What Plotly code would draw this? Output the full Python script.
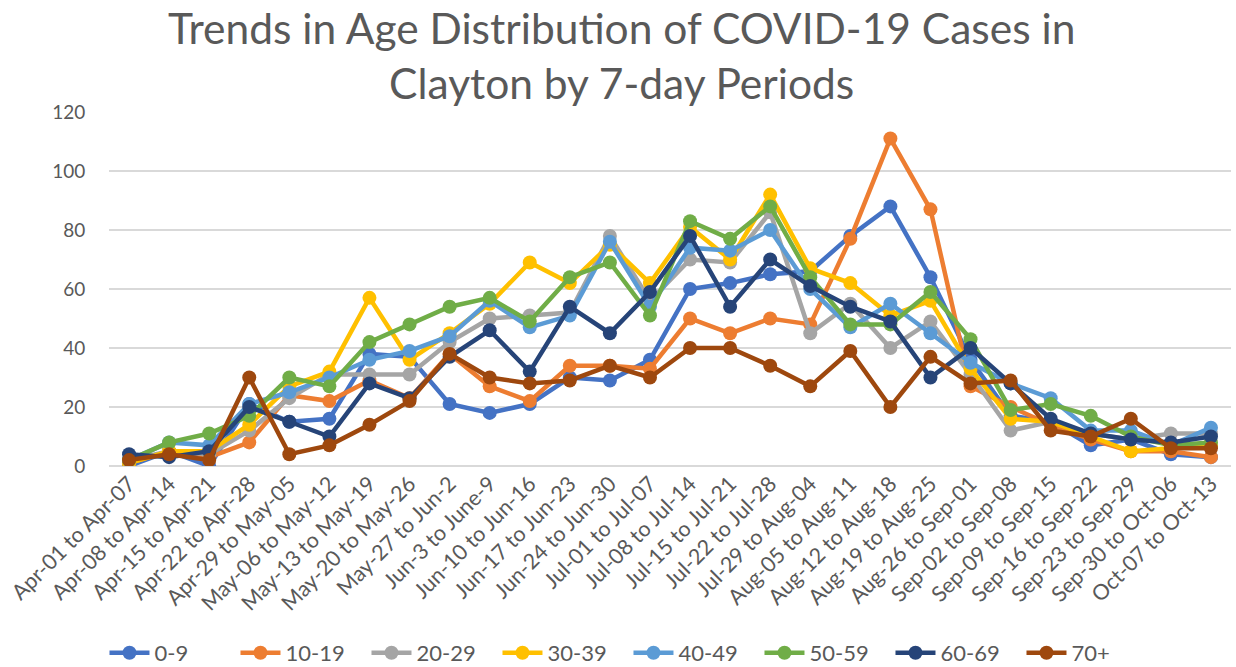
import plotly.graph_objects as go

periods = ["Apr-01 to Apr-07", "Apr-08 to Apr-14", "Apr-15 to Apr-21", "Apr-22 to Apr-28",
           "Apr-29 to May-05", "May-06 to May-12", "May-13 to May-19", "May-20 to May-26",
           "May-27 to Jun-2", "Jun-3 to June-9", "Jun-10 to Jun-16", "Jun-17 to Jun-23",
           "Jun-24 to Jun-30", "Jul-01 to Jul-07", "Jul-08 to Jul-14", "Jul-15 to Jul-21",
           "Jul-22 to Jul-28", "Jul-29 to Aug-04", "Aug-05 to Aug-11", "Aug-12 to Aug-18",
           "Aug-19 to Aug-25", "Aug-26 to Sep-01", "Sep-02 to Sep-08", "Sep-09 to Sep-15",
           "Sep-16 to Sep-22", "Sep-23 to Sep-29", "Sep-30 to Oct-06", "Oct-07 to Oct-13"]

age_0_9   = [0, 5, 0, 21, 15, 16, 38, 37, 21, 18, 21, 30, 29, 36, 60, 62, 65, 66, 78, 88, 64, 36, 17, 15, 7, 9, 4, 3]
age_10_19 = [1, 5, 3, 8, 24, 22, 29, 23, 38, 27, 22, 34, 34, 33, 50, 45, 50, 48, 77, 111, 87, 27, 20, 14, 9, 5, 5, 3]
age_20_29 = [2, 5, 4, 12, 23, 31, 31, 31, 42, 50, 51, 52, 78, 56, 70, 69, 86, 45, 55, 40, 49, 31, 12, 15, 11, 9, 11, 11]
age_30_39 = [1, 5, 5, 14, 27, 32, 57, 36, 45, 55, 69, 62, 75, 62, 81, 70, 92, 67, 62, 51, 56, 33, 16, 15, 10, 5, 6, 7]
age_40_49 = [2, 8, 7, 21, 25, 30, 36, 39, 44, 56, 47, 51, 76, 54, 74, 73, 80, 60, 47, 55, 45, 35, 28, 23, 12, 12, 7, 13]
age_50_59 = [2, 8, 11, 17, 30, 27, 42, 48, 54, 57, 49, 64, 69, 51, 83, 77, 88, 64, 48, 48, 59, 43, 19, 21, 17, 10, 7, 8]
age_60_69 = [4, 3, 5, 20, 15, 10, 28, 23, 37, 46, 32, 54, 45, 59, 78, 54, 70, 61, 54, 49, 30, 40, 28, 16, 11, 9, 8, 10]
age_70p   = [2, 4, 2, 30, 4, 7, 14, 22, 38, 30, 28, 29, 34, 30, 40, 40, 34, 27, 39, 20, 37, 28, 29, 12, 10, 16, 6, 6]

series_names = ["0-9", "10-19", "20-29", "30-39", "40-49", "50-59", "60-69", "70+"]
series_values = [age_0_9, age_10_19, age_20_29, age_30_39, age_40_49, age_50_59, age_60_69, age_70p]
colors = ["#4472C4", "#ED7D31", "#A5A5A5", "#FFC000", "#5B9BD5", "#70AD47", "#264478", "#9E480E"]

FONT = "Lato"
TXT = "#595959"

fig = go.Figure()
for name, vals, col in zip(series_names, series_values, colors):
    fig.add_trace(go.Scatter(
        x=periods, y=vals, name=name, mode="lines+markers",
        line=dict(color=col, width=4.5),
        marker=dict(color=col, size=14),
    ))

fig.update_layout(
    width=1236, height=667,
    paper_bgcolor="white", plot_bgcolor="white",
    margin=dict(l=109, r=5, t=112, b=201, autoexpand=False),
    title=dict(
        text="Trends in Age Distribution of COVID-19 Cases in<br>Clayton by 7-day Periods",
        x=0.503, xanchor="center", yref="container", y=0.934, yanchor="top",
        font=dict(family=FONT, size=42.5, color=TXT),
    ),
    showlegend=True,
    legend=dict(
        orientation="h", x=0.463, xanchor="center", y=-0.528, yanchor="middle",
        font=dict(family=FONT, size=22, color=TXT),
        itemwidth=40, entrywidth=76, entrywidthmode="pixels",
    ),
    font=dict(family=FONT, color=TXT),
)

fig.update_xaxes(
    type="category", range=[-0.5, len(periods) - 0.5],
    tickangle=-45, tickfont=dict(family=FONT, size=21.5, color=TXT),
    showgrid=False, showline=False, zeroline=False, ticks="",
)
fig.update_yaxes(
    range=[0, 120], dtick=20,
    tickfont=dict(family=FONT, size=19, color=TXT),
    showgrid=True, gridcolor="#D9D9D9", gridwidth=1.5,
    zeroline=True, zerolinecolor="#D9D9D9", zerolinewidth=1.5,
    showline=False, ticks="outside", ticklen=19, tickcolor="white",
)

# remove the browser's default 8px body margin so the figure fills the window exactly
fig.write_html("out.html", config={"displayModeBar": False},
               post_script="document.body.style.margin='0px';")
